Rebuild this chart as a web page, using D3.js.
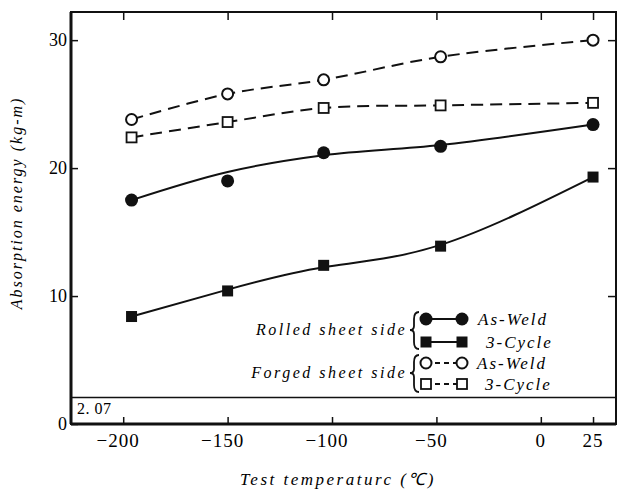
<!DOCTYPE html>
<html>
<head>
<meta charset="utf-8">
<script src="https://cdn.jsdelivr.net/npm/d3@7"></script>
<style>
  body { margin: 0; background: #fff; }
</style>
</head>
<body>
<script>
// test temperatures (deg C)
var temps = [-196, -150, -104, -48, 25];

// absorption energy (kg-m)
var forgedAsWeld   = [23.8, 25.8, 26.9, 28.7, 30.0];
var forged3Cycle   = [22.4, 23.6, 24.7, 24.9, 25.1];
var rolledAsWeld   = [17.5, 19.0, 21.2, 21.7, 23.4];
var rolled3Cycle   = [8.4, 10.4, 12.4, 13.9, 19.3];

// the hand-drawn curves for the rolled side are fits
var rolledAsWeldFit = [17.5, 19.7, 21.0, 21.8, 23.4];
var rolled3CycleFit = [8.4, 10.5, 12.25, 14.0, 19.3];

var xTicks = [-200, -150, -100, -50, 0, 25];
var yTicks = [0, 10, 20, 30];
var limitValue = 2.07;

var FONT = "'Liberation Serif', 'Times New Roman', Times, serif";

var W = 619, H = 489;
var margin = {top: 12, right: 3, bottom: 65, left: 71};
var width = W - margin.left - margin.right,
    height = H - margin.top - margin.bottom;

var svg = d3.select("body").append("svg")
  .attr("width", W)
  .attr("height", H)
  .style("font-family", FONT);

var g = svg.append("g")
  .attr("transform", "translate(" + margin.left + "," + margin.top + ")");

var x = d3.scaleLinear().domain([-225, 36]).range([0, width]);
var y = d3.scaleLinear().domain([0, 32.2]).range([height, 0]);

// axes, all ticks pointing inward
var fmtX = function(d) { return d < 0 ? "\u2212" + (-d) : d; };

g.append("g")
  .attr("transform", "translate(0," + height + ")")
  .call(d3.axisTop(x).tickValues(xTicks).tickSize(7).tickFormat(""))
  .call(function(a) { a.select(".domain").remove(); });

g.append("g")
  .call(d3.axisBottom(x).tickValues(xTicks).tickSize(8).tickFormat(""))
  .call(function(a) { a.select(".domain").remove(); });

g.append("g")
  .call(d3.axisRight(y).tickValues(yTicks).tickSize(7).tickFormat(""))
  .call(function(a) { a.select(".domain").remove(); });

g.append("g")
  .attr("transform", "translate(" + width + ",0)")
  .call(d3.axisLeft(y).tickValues(yTicks.filter(function(d) { return d > 0; })).tickSize(8).tickFormat(""))
  .call(function(a) { a.select(".domain").remove(); });

g.selectAll(".tick line").attr("stroke", "#111").attr("stroke-width", 1.5);

// tick labels
g.selectAll(".xlab")
  .data(xTicks)
  .enter().append("text")
  .attr("class", "xlab")
  .attr("x", function(d) { return x(d) + (d < 0 ? -5 : 0); })
  .attr("y", height + 23)
  .attr("text-anchor", "middle")
  .attr("font-family", FONT)
  .style("font-size", "19px")
  .style("letter-spacing", "1px")
  .text(fmtX);

g.selectAll(".ylab")
  .data(yTicks)
  .enter().append("text")
  .attr("class", "ylab")
  .attr("x", -4)
  .attr("y", function(d) { return y(d); })
  .attr("dy", "0.35em")
  .attr("text-anchor", "end")
  .attr("font-family", FONT)
  .style("font-size", "18px")
  .text(function(d) { return d; });

// frame
g.append("rect")
  .attr("width", width)
  .attr("height", height)
  .attr("fill", "none")
  .attr("stroke", "#111")
  .attr("stroke-width", 2);
g.append("line")
  .attr("x1", 0).attr("x2", 0).attr("y1", 0).attr("y2", height)
  .attr("stroke", "#111").attr("stroke-width", 3);
g.append("line")
  .attr("x1", 0).attr("x2", width).attr("y1", height).attr("y2", height)
  .attr("stroke", "#111").attr("stroke-width", 3);

// 2.07 limit line
g.append("line")
  .attr("x1", 0).attr("x2", width)
  .attr("y1", y(limitValue)).attr("y2", y(limitValue))
  .attr("stroke", "#111").attr("stroke-width", 1.6);
g.append("text")
  .attr("x", 6)
  .attr("y", y(limitValue) + 16)
  .style("font-size", "16px")
  .style("letter-spacing", "0.5px")
  .text("2. 07");

// series
var catmull = d3.curveCatmullRom.alpha(0.5);
var series = [
  {vals: forgedAsWeld, line: forgedAsWeld, curve: catmull, dash: "12,7", shape: "circle", fill: false},
  {vals: forged3Cycle, line: forged3Cycle, curve: catmull, dash: "12,7", shape: "square", fill: false},
  {vals: rolledAsWeld, line: rolledAsWeldFit, curve: catmull, dash: null, shape: "circle", fill: true},
  {vals: rolled3Cycle, line: rolled3CycleFit, curve: d3.curveNatural, dash: null, shape: "square", fill: true}
];

function drawMarker(sel, shape, fill) {
  if (shape == "circle") {
    sel.append("circle")
      .attr("r", fill ? 6.5 : 5.5)
      .attr("fill", fill ? "#111" : "#fff")
      .attr("stroke", "#111")
      .attr("stroke-width", fill ? 0 : 2);
  } else {
    var s = fill ? 11 : 10;
    sel.append("rect")
      .attr("x", -s / 2).attr("y", -s / 2)
      .attr("width", s).attr("height", s)
      .attr("fill", fill ? "#111" : "#fff")
      .attr("stroke", "#111")
      .attr("stroke-width", fill ? 0 : 1.8);
  }
}

series.forEach(function(s) {
  var line = d3.line()
    .x(function(d) { return x(d[0]); })
    .y(function(d) { return y(d[1]); })
    .curve(s.curve);

  g.append("path")
    .datum(temps.map(function(t, i) { return [t, s.line[i]]; }))
    .attr("d", line)
    .attr("fill", "none")
    .attr("stroke", "#111")
    .attr("stroke-width", 2)
    .attr("stroke-dasharray", s.dash);

  g.selectAll(null)
    .data(temps.map(function(t, i) { return [t, s.vals[i]]; }))
    .enter().append("g")
    .attr("transform", function(d) { return "translate(" + x(d[0]) + "," + y(d[1]) + ")"; })
    .each(function() { drawMarker(d3.select(this), s.shape, s.fill); });
});

// legend
var groups = [
  {name: "Rolled sheet side", y: 330, rows: [
    {label: "As-Weld", shape: "circle", fill: true, dash: null, dy: -11, tx: 478},
    {label: "3-Cycle", shape: "square", fill: true, dash: null, dy: 12, tx: 486}]},
  {name: "Forged sheet side", y: 373, rows: [
    {label: "As-Weld", shape: "circle", fill: false, dash: "5,4", dy: -10, tx: 477},
    {label: "3-Cycle", shape: "square", fill: false, dash: "5,4", dy: 11, tx: 485}]}
];

var lg = svg.append("g");
groups.forEach(function(gr) {
  lg.append("text")
    .attr("x", 407)
    .attr("y", gr.y + 5)
    .attr("text-anchor", "end")
    .style("font-size", "16px")
    .style("font-style", "italic")
    .style("letter-spacing", "2.5px")
    .text(gr.name);
  // brace
  var bx = 414, top = gr.y - 18, bot = gr.y + 19, mid = gr.y;
  lg.append("path")
    .attr("d", "M" + (bx + 5) + "," + top +
      " Q" + bx + "," + top + " " + bx + "," + (top + 7) +
      " L" + bx + "," + (mid - 4) +
      " Q" + bx + "," + mid + " " + (bx - 4) + "," + mid +
      " Q" + bx + "," + mid + " " + bx + "," + (mid + 4) +
      " L" + bx + "," + (bot - 7) +
      " Q" + bx + "," + bot + " " + (bx + 5) + "," + bot)
    .attr("fill", "none")
    .attr("stroke", "#111")
    .attr("stroke-width", 1.8);

  gr.rows.forEach(function(r) {
    var ry = gr.y + r.dy;
    lg.append("line")
      .attr("x1", 426).attr("x2", 462)
      .attr("y1", ry).attr("y2", ry)
      .attr("stroke", "#111")
      .attr("stroke-width", 1.8)
      .attr("stroke-dasharray", r.dash);
    [426, 462].forEach(function(mx) {
      var m = lg.append("g").attr("transform", "translate(" + mx + "," + ry + ")");
      drawMarker(m, r.shape, r.fill);
    });
    lg.append("text")
      .attr("x", r.tx)
      .attr("y", ry + 6)
      .style("font-size", "17px")
      .style("font-style", "italic")
      .style("letter-spacing", "2px")
      .text(r.label);
  });
});

// axis titles
svg.append("text")
  .attr("x", 338)
  .attr("y", 485)
  .attr("text-anchor", "middle")
  .style("font-size", "17px")
  .style("font-style", "italic")
  .style("letter-spacing", "2.5px")
  .text("Test temperaturc (\u2103)");

svg.append("text")
  .attr("transform", "translate(22,203) rotate(-90)")
  .attr("text-anchor", "middle")
  .style("font-size", "16px")
  .style("font-style", "italic")
  .style("letter-spacing", "2px")
  .text("Absorption energy (kg-m)");
</script>
</body>
</html>
